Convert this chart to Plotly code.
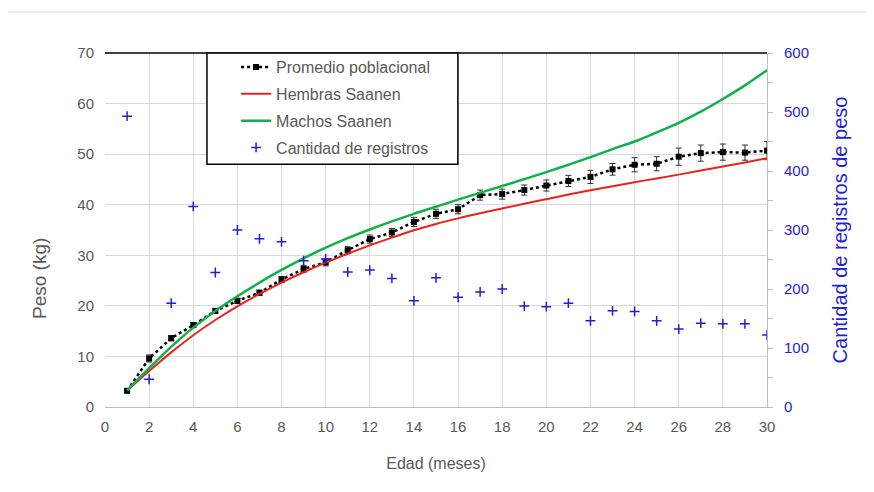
import plotly.graph_objects as go

meses = list(range(1, 31))
promedio = [3.2, 9.6, 13.6, 16.2, 19.0, 21.0, 22.6, 25.2, 27.3, 28.6,
            31.0, 33.2, 34.5, 36.6, 38.2, 39.1, 41.9, 42.1, 42.9, 43.8,
            44.7, 45.5, 47.0, 47.9, 48.1, 49.5, 50.2, 50.4, 50.3, 50.7]
error_prom = [0.3, 0.7, 0.5, 0.5, 0.5, 0.5, 0.5, 0.6, 0.7, 0.7,
              0.7, 0.8, 0.8, 0.9, 0.9, 0.9, 1.0, 1.0, 1.0, 1.1,
              1.1, 1.3, 1.15, 1.4, 1.4, 1.7, 1.6, 1.6, 1.5, 1.8]
hembras = [3.2, 7.1, 10.8, 14.2, 17.2, 19.9, 22.35, 24.6, 26.65, 28.55,
           30.3, 31.95, 33.5, 34.95, 36.2, 37.3, 38.3, 39.25, 40.2, 41.1,
           42.0, 42.85, 43.65, 44.45, 45.2, 45.95, 46.75, 47.55, 48.35, 49.2]
machos = [3.3, 7.7, 11.9, 15.7, 19.0, 21.9, 24.6, 27.1, 29.4, 31.5,
          33.4, 35.1, 36.7, 38.2, 39.6, 41.0, 42.35, 43.7, 45.05, 46.45,
          47.9, 49.4, 51.0, 52.5, 54.3, 56.2, 58.4, 60.9, 63.6, 66.6]
registros = [493, 47, 176, 340, 228, 300, 285, 280, 248, 251,
             229, 232, 218, 180, 219, 186, 195, 200, 171, 170,
             176, 146, 163, 162, 146, 132, 142, 141, 141, 122]

x_ticks = list(range(0, 31, 2))
y_ticks = list(range(0, 71, 10))
y2_ticks = list(range(0, 601, 100))

GRAY = "#595959"
BLUE = "#1f1fd6"
FONT = "Liberation Sans, Arial, sans-serif"

fig = go.Figure()

fig.add_trace(go.Scatter(
    x=meses, y=promedio, name="Promedio poblacional", mode="lines+markers",
    line=dict(color="black", width=2.5, dash="dot"),
    marker=dict(symbol="square", size=6, color="black"),
    error_y=dict(type="data", array=error_prom, color="#333333", thickness=1, width=3),
    legendgroup="a"))
fig.add_trace(go.Scatter(
    x=meses, y=hembras, name="Hembras Saanen", mode="lines",
    line=dict(color="#e8231e", width=2, shape="spline"), legendgroup="b"))
fig.add_trace(go.Scatter(
    x=meses, y=machos, name="Machos Saanen", mode="lines",
    line=dict(color="#12b04b", width=2.5, shape="spline"), legendgroup="c"))
fig.add_trace(go.Scatter(
    x=meses, y=registros, name="Cantidad de registros", mode="markers",
    marker=dict(symbol="cross-thin", size=7, color=BLUE,
                line=dict(color=BLUE, width=1.5)),
    yaxis="y2", legendgroup="d"))

fig.update_layout(
    width=874, height=492,
    margin=dict(l=97, r=115, t=45, b=93),
    paper_bgcolor="white", plot_bgcolor="white",
    font=dict(family=FONT, size=15, color=GRAY),
    xaxis=dict(range=[0, 30], tickvals=x_ticks, showgrid=True,
               gridcolor="#d9d9d9", gridwidth=1, zeroline=False,
               showline=True, linecolor="#bfbfbf", linewidth=1,
               ticks="", ticklabelstandoff=6, tickfont=dict(size=15, color=GRAY),
               automargin=False,
               title=dict(text="Edad (meses)", font=dict(size=16, color=GRAY), standoff=23)),
    yaxis=dict(range=[0, 70], tickvals=y_ticks, showgrid=True,
               gridcolor="#d9d9d9", gridwidth=1, zeroline=False,
               showline=False, ticks="", ticklabelstandoff=10,
               tickfont=dict(size=15, color=GRAY), automargin=False),
    yaxis2=dict(range=[0, 600], tickvals=y2_ticks, overlaying="y", side="right",
                showgrid=False, zeroline=False, showline=True,
                linecolor="#bfbfbf", linewidth=1,
                ticks="outside", ticklen=5, tickcolor="#bfbfbf",
                ticklabelstandoff=8,
                minor=dict(ticks="outside", dtick=50, ticklen=5, tickcolor="#bfbfbf"),
                tickfont=dict(size=15, color=BLUE), automargin=False,
                title=dict(text="Cantidad de registros de peso",
                           font=dict(size=20, color=BLUE), standoff=24)),
    legend=dict(x=0.198, y=1.008, xanchor="left", yanchor="top",
                bgcolor="rgba(0,0,0,0)", borderwidth=0,
                font=dict(size=16, color=GRAY), traceorder="grouped",
                tracegroupgap=3, itemwidth=30),
    showlegend=True,
    annotations=[
        dict(text="Peso (kg)", xref="paper", yref="paper", x=-0.098, y=0.362,
             xanchor="center", yanchor="middle", textangle=-90, showarrow=False,
             font=dict(size=19, color=GRAY)),
    ],
    shapes=[
        dict(type="line", xref="paper", yref="paper", x0=0, x1=1, y0=1, y1=1,
             line=dict(color="#404040", width=2)),
        dict(type="rect", xref="paper", yref="paper",
             x0=0.154, x1=0.533, y0=0.686, y1=1,
             fillcolor="white", line=dict(color="black", width=1.5), layer="above"),
        dict(type="rect", xref="paper", yref="paper",
             x0=-0.151, x1=1.154, y0=-0.35, y1=1.116,
             line=dict(color="#e0e0e0", width=1), layer="below"),
    ],
)

fig.write_html("out.html")
